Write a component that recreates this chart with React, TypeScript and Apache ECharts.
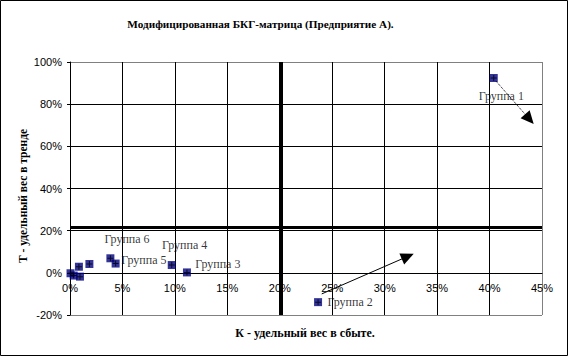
import React, { useEffect, useRef } from "react";
import * as echarts from "echarts";

const titleText = "Модифицированная БКГ-матрица (Предприятие А).";
const xAxisTitle = "К - удельный вес в сбыте.";
const yAxisTitle = "Т - удельный вес в тренде";

const groupNames = ["Группа 1", "Группа 2", "Группа 3", "Группа 4", "Группа 5", "Группа 6", "", "", "", "", ""];
const kValues = [40.4, 23.65, 11.15, 9.7, 4.35, 3.85, 0.05, 0.35, 0.85, 0.95, 1.85];
const tValues = [92.4, -13.9, 0.2, 3.7, 4.4, 6.9, -0.2, -1.3, 2.9, -1.8, 4.2];

const arrowFrom = [[40.6, 91.0], [24.0, -10.0]];
const arrowTo = [[43.8, 72.9], [32.2, 7.8]];

const dividerK = 20.1;
const dividerT = 21.5;

const xTicks = { min: 0, max: 45, step: 5 };
const yTicks = { min: -20, max: 100, step: 20 };

// label placement (layout, pixels relative to marker centre)
const labelShift: Record<string, [number, number]> = {
  "Группа 1": [-15, 18],
  "Группа 2": [9.5, 0],
  "Группа 3": [8.3, -8.7],
  "Группа 4": [-9.7, -20.3],
  "Группа 5": [5.7, -3.3],
  "Группа 6": [-6, -19.3],
};

const SERIF = "Liberation Serif";
const SANS = "Liberation Sans";
const MARK = 8;
const PLUS = "path://M2.5,0H3.5V2.5H6V3.5H3.5V6H2.5V3.5H0V2.5H2.5Z";
const GRID = { left: 70, right: 27, top: 62, bottom: 42 };
const H = 357;

export default function App() {
  const ref = useRef<HTMLDivElement>(null);
  useEffect(() => {
    if (!ref.current) return;
    const chart = echarts.init(ref.current, undefined, { renderer: "svg" });
    const points = kValues.map((k, i) => {
      const name = groupNames[i];
      const s = labelShift[name];
      return {
        name,
        value: [k, tValues[i]],
        label: s
          ? {
              show: true,
              formatter: name,
              position: [s[0] + MARK / 2, s[1] + MARK / 2],
              align: "left",
              verticalAlign: "middle",
              color: "#000",
              fontFamily: SERIF,
              fontSize: 12,
            }
          : { show: false },
      };
    });
    const plusPoints = kValues.map((k, i) => [k, tValues[i]]);
    const nX = (xTicks.max - xTicks.min) / xTicks.step + 1;
    const nY = (yTicks.max - yTicks.min) / yTicks.step + 1;
    const xColors = Array.from({ length: nX }, (_, i) => (i === nX - 1 ? "#808080" : "#000"));
    const yColors = Array.from({ length: nY }, (_, i) => (i === 0 || i === nY - 1 ? "#808080" : "#000"));
    const plotH = H - GRID.top - GRID.bottom;
    const zeroOffset = -plotH * (0 - yTicks.min) / (yTicks.max - yTicks.min);
    chart.setOption({
      animation: false,
      backgroundColor: "#fff",
      grid: GRID,
      xAxis: {
        type: "value",
        min: xTicks.min,
        max: xTicks.max,
        interval: xTicks.step,
        offset: zeroOffset,
        axisLine: { onZero: false, lineStyle: { color: "#000", width: 1 } },
        axisTick: { show: false },
        axisLabel: {
          formatter: "{value}%",
          color: "#000",
          fontFamily: SANS,
          fontSize: 11,
          margin: 10,
        },
        splitLine: { show: true, lineStyle: { color: xColors, width: 1 } },
      },
      yAxis: {
        type: "value",
        min: yTicks.min,
        max: yTicks.max,
        interval: yTicks.step,
        axisLine: { show: true, onZero: false, lineStyle: { color: "#000", width: 1 } },
        axisTick: { show: true, length: 3, lineStyle: { color: "#000" } },
        axisLabel: {
          formatter: "{value}%",
          color: "#000",
          fontFamily: SANS,
          fontSize: 11,
          margin: 8,
        },
        splitLine: { show: true, lineStyle: { color: yColors, width: 1 } },
      },
      graphic: [
        {
          type: "rect",
          shape: { x: 0.5, y: 0.5, width: 567, height: 355 },
          style: { fill: "none", stroke: "#000", lineWidth: 1 },
          z: 100,
        },
        {
          type: "text",
          x: 260.5,
          y: 24,
          style: {
            text: titleText,
            fontFamily: SERIF,
            fontWeight: "bold",
            fontSize: 11.2,
            fill: "#000",
            align: "center",
            verticalAlign: "middle",
          },
        },
        {
          type: "text",
          x: 305,
          y: 333,
          style: {
            text: xAxisTitle,
            fontFamily: SERIF,
            fontWeight: "bold",
            fontSize: 12,
            fill: "#000",
            align: "center",
            verticalAlign: "middle",
          },
        },
        {
          type: "text",
          x: 23,
          y: 196,
          rotation: Math.PI / 2,
          style: {
            text: yAxisTitle,
            fontFamily: SERIF,
            fontWeight: "bold",
            fontSize: 11.5,
            fill: "#000",
            align: "center",
            verticalAlign: "middle",
          },
        },
      ],
      series: [
        {
          type: "scatter",
          data: [],
          z: 1,
          markLine: {
            silent: true,
            symbol: ["none", "none"],
            label: { show: false },
            data: [
              { xAxis: dividerK, lineStyle: { color: "#000", width: 4, type: "solid" } },
              { yAxis: dividerT, lineStyle: { color: "#000", width: 3, type: "solid" } },
            ],
          },
        },
        {
          type: "scatter",
          data: points,
          symbol: "rect",
          symbolSize: MARK,
          itemStyle: { color: "#000080" },
          z: 3,
        },
        {
          type: "scatter",
          data: plusPoints,
          symbol: PLUS,
          symbolSize: 6,
          itemStyle: { color: "#000" },
          z: 4,
          silent: true,
        },
        {
          type: "scatter",
          data: [],
          z: 5,
          markLine: {
            silent: true,
            symbol: ["none", "triangle"],
            symbolSize: [12, 13],
            label: { show: false },
            data: arrowFrom.map((f, i) => [
              {
                coord: f,
                lineStyle: { color: "#000", width: 1, type: i === 0 ? "dotted" : "solid" },
                itemStyle: { color: "#000" },
              },
              { coord: arrowTo[i] },
            ]),
          },
        },
      ],
    });
    return () => chart.dispose();
  }, []);
  return (
    <div
      ref={ref}
      style={{ position: "fixed", left: 0, top: 0, width: 569, height: 357, background: "#fff" }}
    />
  );
}
